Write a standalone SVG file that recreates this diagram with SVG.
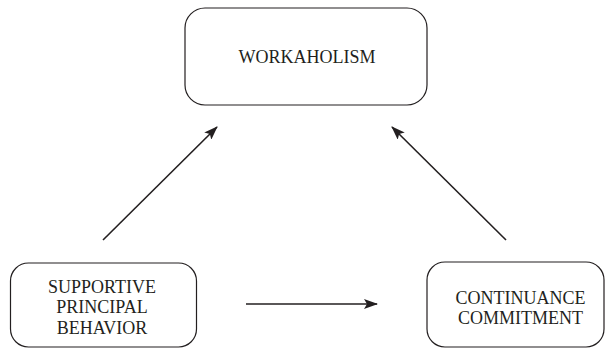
<svg xmlns="http://www.w3.org/2000/svg" width="606" height="348" viewBox="0 0 606 348">
<style>
.box{fill:#fff;stroke:#231f20;stroke-width:1.2}
.lbl{font-family:"Liberation Serif","Times New Roman",serif;font-size:18px;fill:#231f20;text-anchor:middle}
.conn{stroke:#231f20;stroke-width:1.6;fill:none;marker-end:url(#ah)}
</style>
<defs>
<marker id="ah" viewBox="0 0 14 10" refX="13" refY="5" markerWidth="14" markerHeight="10" markerUnits="userSpaceOnUse" orient="auto">
<path d="M0,0 L14,5 L0,10 L3,5 Z" fill="#231f20"/>
</marker>
</defs>
<rect width="606" height="348" fill="#fff"/>
<g id="workaholism">
<rect class="box" x="185" y="8" width="242" height="97" rx="20"/>
<text class="lbl" x="307" y="63">WORKAHOLISM</text>
</g>
<g id="supportive">
<rect class="box" x="10.5" y="263" width="186" height="84" rx="18"/>
<text class="lbl" x="102" y="292.5">SUPPORTIVE</text>
<text class="lbl" x="102" y="313">PRINCIPAL</text>
<text class="lbl" x="102" y="333.5">BEHAVIOR</text>
</g>
<g id="continuance">
<rect class="box" x="427" y="262" width="177" height="85" rx="18"/>
<text class="lbl" x="520.5" y="304">CONTINUANCE</text>
<text class="lbl" x="520.5" y="324">COMMITMENT</text>
</g>
<g id="connectors">
<line class="conn" x1="103" y1="240" x2="217" y2="127"/>
<line class="conn" x1="506" y1="240" x2="392" y2="127"/>
<line class="conn" x1="246" y1="304" x2="377" y2="304"/>
</g>
</svg>
